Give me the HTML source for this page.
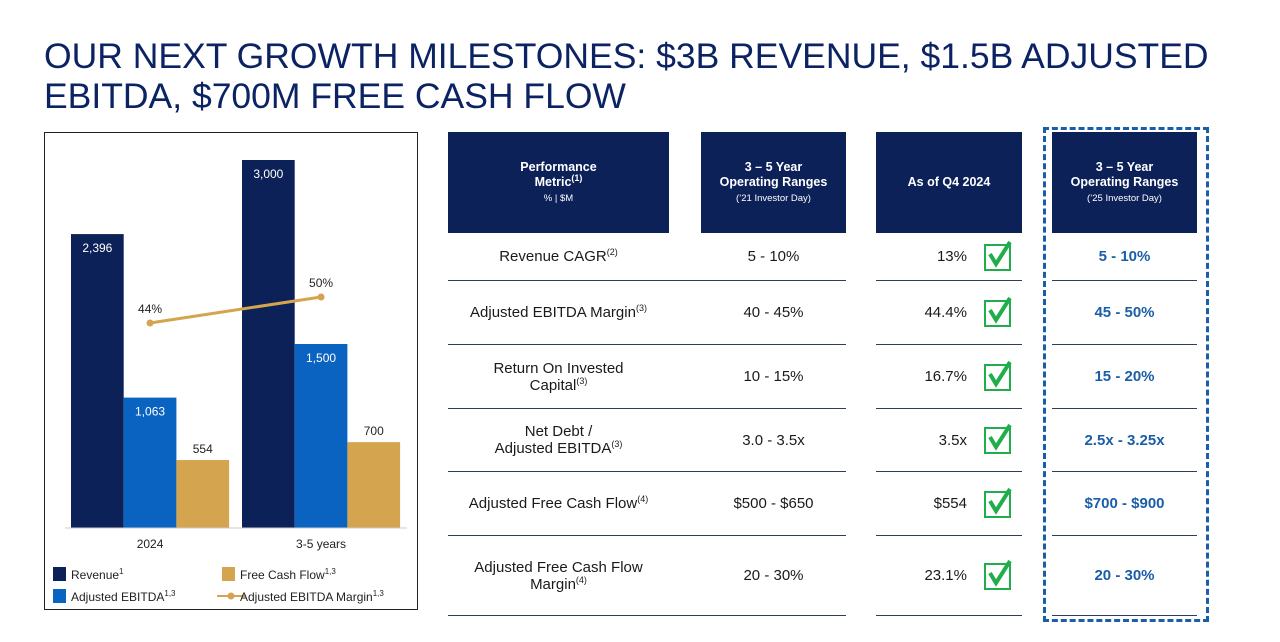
<!DOCTYPE html>
<html><head><meta charset="utf-8"><style>
body{margin:0;width:1280px;height:642px;background:#fff;position:relative;font-family:"Liberation Sans",sans-serif;overflow:hidden}
.a{position:absolute}
.title{left:44px;top:36px;font-size:35.5px;line-height:40px;color:#0b2363;letter-spacing:0px}
.hdr{background:#0b2158;color:#fff;text-align:center;font-weight:bold;font-size:12.5px;line-height:15px;display:flex;align-items:center;justify-content:center;top:132px;height:101px}
.hdr small{font-size:9.5px;font-weight:normal}
.cell{font-size:15px;color:#1a1a1a;text-align:center;display:flex;align-items:center;justify-content:center;line-height:17px}
.line{height:1px;background:#2f3d5c}
.blue{color:#1a5ea8;font-weight:bold}
.chk{width:27px;height:27px;border:2.5px solid #1fae4b;box-sizing:border-box}
sup{font-size:9px;line-height:0}
</style></head><body>
<div class="a title">OUR NEXT GROWTH MILESTONES: $3B REVENUE, $1.5B ADJUSTED<br>EBITDA, $700M FREE CASH FLOW</div>
<div class="a" style="left:44px;top:132px;width:372px;height:476px;border:1px solid #222"></div>
<svg class="a" style="left:0;top:0" width="440" height="642" id="chart"></svg>
<div id="table"></div>
<div class="a" style="left:1043px;top:127px;width:160px;height:489px;border:3px dashed #1a5ea8"></div>
<script>
const categories=["2024","3-5 years"];
const revenue=[2396,3000];
const ebitda=[1063,1500];
const fcf=[554,700];
const margin=[44,50];
const revLabels=["2,396","3,000"];
const ebitdaLabels=["1,063","1,500"];
const fcfLabels=["554","700"];
const NS="http://www.w3.org/2000/svg";
const svg=document.getElementById('chart');
const base=528;
const y=v=>base-v*368/3000;
const ym=v=>323-(v-44)*26/6;
const groupX=[71,242];
const bw=52.7;
function el(t,a){const e=document.createElementNS(NS,t);for(const k in a)e.setAttribute(k,a[k]);svg.appendChild(e);return e;}
const series=[[revenue,"#0b2158",revLabels,"#fff",true,"revenue"],[ebitda,"#0b63c1",ebitdaLabels,"#fff",true,"ebitda"],[fcf,"#d4a44e",fcfLabels,"#222",false,"fcf"]];
categories.forEach((c,i)=>{
 series.forEach((s,j)=>{
  const x=groupX[i]+j*bw, v=s[0][i];
  const r=el('rect',{x:x,y:y(v),width:bw,height:base-y(v),fill:s[1]});
  
  
  const t=el('text',{x:x+bw/2,y:s[4]?y(v)+18:y(v)-7,'text-anchor':'middle','font-size':'12',fill:s[3],'font-family':'Liberation Sans'});
  t.textContent=s[2][i];
  
  
 });
 const xl=el('text',{x:groupX[i]+bw*1.5,y:548,'text-anchor':'middle','font-size':'12',fill:'#222','font-family':'Liberation Sans'});
 xl.textContent=c;
 
 
});
const ax=el('line',{x1:65,x2:407,y1:base,y2:base,stroke:'#ccc','stroke-width':1});


const mx=categories.map((c,i)=>groupX[i]+bw*1.5);
const pl=el('polyline',{points:mx.map((x,i)=>x+','+ym(margin[i])).join(' '),fill:'none',stroke:'#d4a44e','stroke-width':3});


mx.forEach((x,i)=>{
 const c=el('circle',{cx:x,cy:ym(margin[i]),r:3.5,fill:'#d4a44e'});
 
 
 const t=el('text',{x:x,y:ym(margin[i])-10,'text-anchor':'middle','font-size':'12',fill:'#222','font-family':'Liberation Sans'});
 t.textContent=margin[i]+'%';
 
 
});
const leg=[[52,567,'rect','#0b2158','Revenue','1'],[52,589,'rect','#0b63c1','Adjusted EBITDA','1,3'],[221,567,'rect','#d4a44e','Free Cash Flow','1,3'],[221,589,'line','#d4a44e','Adjusted EBITDA Margin','1,3']];
leg.forEach(l=>{
 let m;
 if(l[2]=='rect'){m=el('rect',{x:l[0]+1,y:l[1],width:13,height:14,fill:l[3]});}
 else{m=el('line',{x1:l[0]-4,x2:l[0]+24,y1:l[1]+7,y2:l[1]+7,stroke:l[3],'stroke-width':2});el('circle',{cx:l[0]+10,cy:l[1]+7,r:3.5,fill:l[3]});}
 
 
 const t=el('text',{x:l[0]+19,y:l[1]+12,'font-size':'12',fill:'#222','font-family':'Liberation Sans'});
 t.innerHTML=l[4]+'<tspan font-size="8" dy="-5">'+l[5]+'</tspan>';
 
 
});
</script>
<div class="a hdr" style="left:448px;width:221px"><div>Performance<br>Metric<sup>(1)</sup><br><small>% | $M</small></div></div>
<div class="a hdr" style="left:701px;width:145px"><div>3 – 5 Year<br>Operating Ranges<br><small>(’21 Investor Day)</small></div></div>
<div class="a hdr" style="left:876px;width:146px"><div>As of Q4 2024</div></div>
<div class="a hdr" style="left:1052px;width:145px"><div>3 – 5 Year<br>Operating Ranges<br><small>(’25 Investor Day)</small></div></div>
<script>
const metrics=['Revenue CAGR<sup>(2)</sup>','Adjusted EBITDA Margin<sup>(3)</sup>','Return On Invested<br>Capital<sup>(3)</sup>','Net Debt /<br>Adjusted EBITDA<sup>(3)</sup>','Adjusted Free Cash Flow<sup>(4)</sup>','Adjusted Free Cash Flow<br>Margin<sup>(4)</sup>'];
const old=['5 - 10%','40 - 45%','10 - 15%','3.0 - 3.5x','$500 - $650','20 - 30%'];
const cur=['13%','44.4%','16.7%','3.5x','$554','23.1%'];
const nw=['5 - 10%','45 - 50%','15 - 20%','2.5x - 3.25x','$700 - $900','20 - 30%'];
const tops=[233,281,345,409,472,536];
const bots=[280,344,408,471,535,615];
const T=document.getElementById('table');
function add(html,style,name,cls){const d=document.createElement('div');d.className='a '+cls;d.style.cssText=style;d.innerHTML=html;


T.appendChild(d);}
metrics.forEach((m,i)=>{
 const t=tops[i],h=bots[i]-tops[i];
 add('<div>'+m+'</div>',`left:448px;width:221px;top:${t}px;height:${h}px`,'metric-name','cell');
 add('<div>'+old[i]+'</div>',`left:701px;width:145px;top:${t}px;height:${h}px`,'old-range','cell');
 add('<div>'+cur[i]+'</div>',`left:876px;width:91px;top:${t}px;height:${h}px;justify-content:flex-end`,'current-value','cell');
 add('<svg width="30" height="30" style="position:absolute;left:-2px;top:-6px"><path d="M6 14 L12 24 L26 2" fill="none" stroke="#1fae4b" stroke-width="4"/></svg>',`left:984px;top:${t+h/2-13}px;overflow:visible`,'check-icon','chk');
 add('<div>'+nw[i]+'</div>',`left:1052px;width:145px;top:${t}px;height:${h}px`,'new-range','cell blue');
 add('',`left:448px;width:398px;top:${bots[i]}px`,'row-divider','line');
 add('',`left:876px;width:146px;top:${bots[i]}px`,'row-divider','line');
 add('',`left:1052px;width:145px;top:${bots[i]}px`,'row-divider','line');
});
</script>
</body></html>
